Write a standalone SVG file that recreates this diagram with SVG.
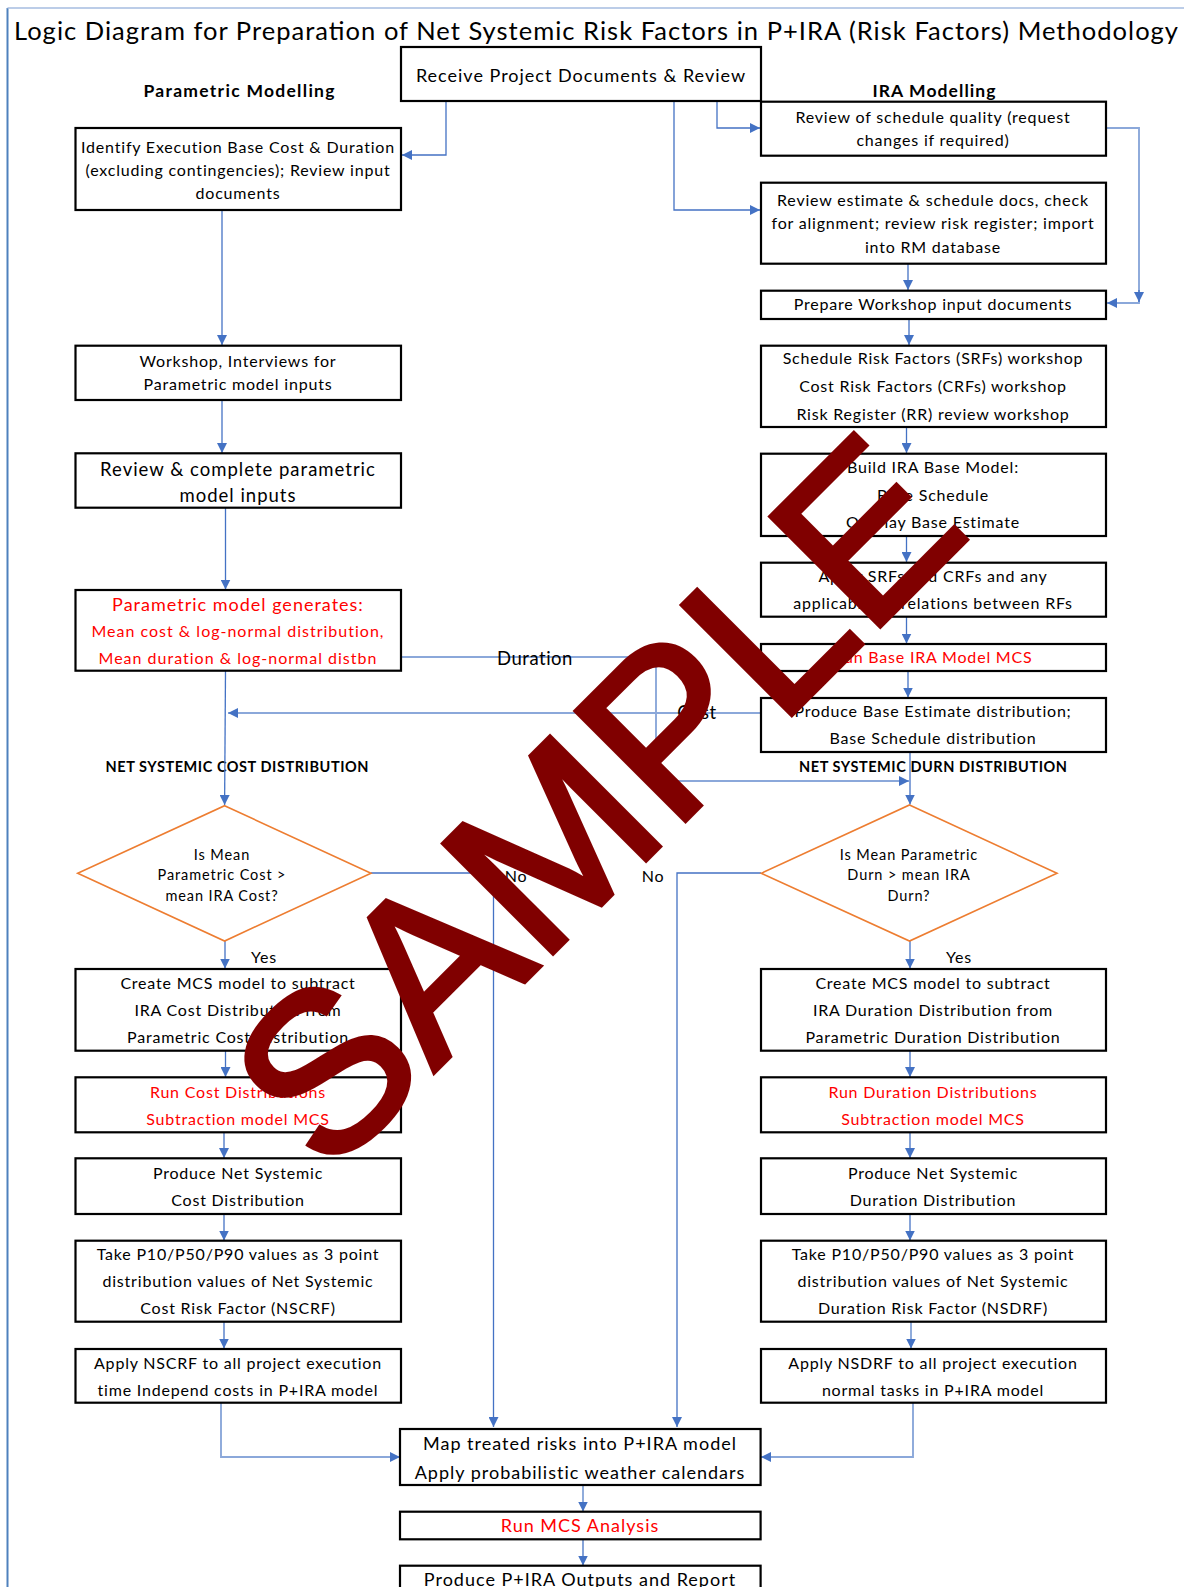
<svg xmlns="http://www.w3.org/2000/svg" width="1184" height="1587" viewBox="0 0 1184 1587">
<style>
text{font-family:Lato,"Liberation Sans",sans-serif;fill:#000}
.bx{fill:#fff;stroke:#000;stroke-width:2.2}
.dm{fill:#fff;stroke:#ED7D31;stroke-width:1.6}
.t{font-size:16px;letter-spacing:.8px;text-anchor:middle}
.big{font-size:18px;letter-spacing:1px}
.big2{font-size:18.5px;letter-spacing:1px}
.mid{font-size:16px;letter-spacing:1px}
.r{fill:#FF0000}
.h{font-weight:bold;text-anchor:middle}
.c{fill:none;stroke:#4472C4;stroke-width:1.3}
.cl{fill:none;stroke:#8BA8DA;stroke-width:1.9}
.lb{font-size:18.5px;letter-spacing:.5px;text-anchor:middle}
.dt{font-size:14.5px;letter-spacing:.9px;text-anchor:middle}
.wm{font-family:"Liberation Sans",Arial,sans-serif;font-size:225px;text-anchor:middle;fill:#800000;stroke:#800000;stroke-width:5;stroke-linejoin:miter}
</style>
<defs>
<marker id="ah" viewBox="0 0 10 10" refX="10" refY="5" markerWidth="10" markerHeight="10" markerUnits="userSpaceOnUse" orient="auto"><path d="M0,0 L10,5 L0,10 z" fill="#4472C4"/></marker>
</defs>
<rect width="1184" height="1587" fill="#fff"/>
<path d="M7.5,1587 V8" stroke="#4F81BD" stroke-width="2" fill="none"/>
<path d="M7.5,8 H1184" stroke="#A6BCE0" stroke-width="1.5" fill="none"/>

<text id="title" x="14" y="39.5" font-size="25.5" textLength="1164" lengthAdjust="spacing">Logic Diagram for Preparation of Net Systemic Risk Factors in P+IRA (Risk Factors) Methodology</text>
<text class="h" x="239" y="97" font-size="17.5" textLength="191">Parametric Modelling</text>
<text class="h" x="934" y="97" font-size="17.5" textLength="123">IRA Modelling</text>
<text class="h" x="237" y="771.5" font-size="14.5" textLength="263">NET SYSTEMIC COST DISTRIBUTION</text>
<text class="h" x="933" y="771.5" font-size="14.5" textLength="268">NET SYSTEMIC DURN DISTRIBUTION</text>

<g id="connectors">
<path class="c" d="M446,101 V155 H402" marker-end="url(#ah)"/>
<path class="c" d="M674,101 V210 H760" marker-end="url(#ah)"/>
<path class="c" d="M717,101 V128 H760" marker-end="url(#ah)"/>
<path class="cl" d="M1106,128 H1139 V303 H1107" marker-end="url(#ah)"/>
<path class="c" d="M1139,290 V302" marker-end="url(#ah)"/>
<path class="c" d="M222,210 V345" marker-end="url(#ah)"/>
<path class="c" d="M222,400 V453" marker-end="url(#ah)"/>
<path class="c" d="M225.5,508 V589.5" marker-end="url(#ah)"/>
<path class="c" d="M908,264 V290" marker-end="url(#ah)"/>
<path class="c" d="M909,319 V345" marker-end="url(#ah)"/>
<path class="c" d="M906.5,427 V453" marker-end="url(#ah)"/>
<path class="c" d="M906.5,536 V562" marker-end="url(#ah)"/>
<path class="c" d="M906.5,617 V643.5" marker-end="url(#ah)"/>
<path class="c" d="M908,671 V697.5" marker-end="url(#ah)"/>
<path class="c" d="M910,752 V804.5" marker-end="url(#ah)"/>
<path class="cl" d="M401,657 H656 V781 H909" marker-end="url(#ah)"/>
<path class="cl" d="M761,713 H228" marker-end="url(#ah)"/>
<path class="c" d="M225.5,671 L224.6,805" marker-end="url(#ah)"/>
<path class="c" d="M225,941 V968.5" marker-end="url(#ah)"/>
<path class="c" d="M910,941 V968.5" marker-end="url(#ah)"/>
<path class="c" d="M225.5,1051 V1077" marker-end="url(#ah)"/>
<path class="c" d="M224,1132 V1158" marker-end="url(#ah)"/>
<path class="c" d="M224,1214 V1240.5" marker-end="url(#ah)"/>
<path class="c" d="M224,1322 V1348.5" marker-end="url(#ah)"/>
<path class="c" d="M910,1051 V1077" marker-end="url(#ah)"/>
<path class="c" d="M910,1132 V1158" marker-end="url(#ah)"/>
<path class="c" d="M910,1214 V1240.5" marker-end="url(#ah)"/>
<path class="cl" d="M911,1322 V1348.5" marker-end="url(#ah)"/>
<path class="c" d="M371,873 H493.5 V1427" marker-end="url(#ah)"/>
<path class="c" d="M761,873 H677 V1427" marker-end="url(#ah)"/>
<path class="cl" d="M221,1403 V1457 H400" marker-end="url(#ah)"/>
<path class="cl" d="M913,1403 V1457 H761" marker-end="url(#ah)"/>
<path class="cl" d="M583,1485 V1511.5" marker-end="url(#ah)"/>
<path class="c" d="M583,1539 V1565.5" marker-end="url(#ah)"/>
<text class="lb" x="535" y="665">Duration</text>
<text class="lb" x="697" y="719">Cost</text>
<text class="t" x="516" y="882">No</text>
<text class="t" x="653" y="882">No</text>
<text class="t" x="264" y="963">Yes</text>
<text class="t" x="959" y="963">Yes</text>
</g>

<g id="n-receive"><rect class="bx" x="401" y="47" width="360" height="54"/><text class="t big" x="581" y="81.5">Receive Project Documents &amp; Review</text></g>

<g id="n-identify"><rect class="bx" x="75.5" y="128" width="325.5" height="82"/>
<text class="t" x="238" y="153">Identify Execution Base Cost &amp; Duration</text>
<text class="t" x="238" y="176">(excluding contingencies); Review input</text>
<text class="t" x="238" y="198.5">documents</text></g>

<g id="n-workshop"><rect class="bx" x="75.5" y="345.7" width="325.5" height="54.3"/>
<text class="t" x="238" y="367">Workshop, Interviews for</text>
<text class="t" x="238" y="389.5">Parametric model inputs</text></g>

<g id="n-reviewcomplete"><rect class="bx" x="75.5" y="453.3" width="325.5" height="54.4"/>
<text class="t big2" x="238" y="475.5">Review &amp; complete parametric</text>
<text class="t big2" x="238" y="502">model inputs</text></g>

<g id="n-paramgen"><rect class="bx" x="75.5" y="590" width="325.5" height="80.7"/>
<text class="t big r" x="238" y="611.3">Parametric model generates:</text>
<text class="t mid r" x="238" y="637">Mean cost &amp; log-normal distribution,</text>
<text class="t mid r" x="238" y="663.6">Mean duration &amp; log-normal distbn</text></g>

<g id="n-schedquality"><rect class="bx" x="761" y="101.7" width="345" height="54"/>
<text class="t" x="933" y="123.3">Review of schedule quality (request</text>
<text class="t" x="933" y="146.3">changes if required)</text></g>

<g id="n-reviewest"><rect class="bx" x="761" y="182.7" width="345" height="81"/>
<text class="t" x="933" y="206">Review estimate &amp; schedule docs, check</text>
<text class="t" x="933" y="229">for alignment; review risk register; import</text>
<text class="t" x="933" y="252.5">into RM database</text></g>

<g id="n-prepare"><rect class="bx" x="761" y="290.7" width="345" height="28.3"/>
<text class="t" x="933" y="310.3">Prepare Workshop input documents</text></g>

<g id="n-workshops"><rect class="bx" x="761" y="345.7" width="345" height="81.3"/>
<text class="t" x="933" y="364.3">Schedule Risk Factors (SRFs) workshop</text>
<text class="t" x="933" y="392.3">Cost Risk Factors (CRFs) workshop</text>
<text class="t" x="933" y="419.8">Risk Register (RR) review workshop</text></g>

<g id="n-build"><rect class="bx" x="761" y="453.7" width="345" height="82.3"/>
<text class="t" x="933" y="473">Build IRA Base Model:</text>
<text class="t" x="933" y="500.5">Base Schedule</text>
<text class="t" x="933" y="527.5">Overlay Base Estimate</text></g>

<g id="n-apply"><rect class="bx" x="761" y="562.7" width="345" height="54"/>
<text class="t" x="933" y="581.5">Apply SRFs and CRFs and any</text>
<text class="t" x="933" y="608.5">applicable correlations between RFs</text></g>

<g id="n-runbase"><rect class="bx" x="761" y="644" width="345" height="27"/>
<text class="t r" x="933" y="663.2">Run Base IRA Model MCS</text></g>

<g id="n-producebase"><rect class="bx" x="761" y="698" width="345" height="54"/>
<text class="t" x="933" y="716.8">Produce Base Estimate distribution;</text>
<text class="t" x="933" y="744.2">Base Schedule distribution</text></g>

<g id="n-dcost"><path class="dm" d="M224.6,805.7 L371,873.3 L224.6,941 L77.7,873.3 Z"/>
<text class="dt" x="222" y="860">Is Mean</text>
<text class="dt" x="222" y="880">Parametric Cost &gt;</text>
<text class="dt" x="222" y="900.5">mean IRA Cost?</text></g>

<g id="n-ddurn"><path class="dm" d="M909.5,805 L1057,873.3 L909.5,941 L761.3,873.3 Z"/>
<text class="dt" x="909" y="860">Is Mean Parametric</text>
<text class="dt" x="909" y="880">Durn &gt; mean IRA</text>
<text class="dt" x="909" y="900.5">Durn?</text></g>

<g id="n-createcost"><rect class="bx" x="75.5" y="969" width="325.5" height="81.7"/>
<text class="t" x="238" y="988.6">Create MCS model to subtract</text>
<text class="t" x="238" y="1016">IRA Cost Distribution from</text>
<text class="t" x="238" y="1043">Parametric Cost Distribution</text></g>

<g id="n-runcost"><rect class="bx" x="75.5" y="1077.3" width="325.5" height="55"/>
<text class="t r" x="238" y="1098">Run Cost Distributions</text>
<text class="t r" x="238" y="1124.6">Subtraction model MCS</text></g>

<g id="n-netcost"><rect class="bx" x="75.5" y="1158.3" width="325.5" height="55.7"/>
<text class="t" x="238" y="1178.6">Produce Net Systemic</text>
<text class="t" x="238" y="1206">Cost Distribution</text></g>

<g id="n-p10cost"><rect class="bx" x="75.5" y="1240.7" width="325.5" height="81"/>
<text class="t" x="238" y="1260">Take P10/P50/P90 values as 3 point</text>
<text class="t" x="238" y="1287">distribution values of Net Systemic</text>
<text class="t" x="238" y="1314.3">Cost Risk Factor (NSCRF)</text></g>

<g id="n-applycost"><rect class="bx" x="75.5" y="1349" width="325.5" height="53.7"/>
<text class="t" x="238" y="1369.3">Apply NSCRF to all project execution</text>
<text class="t" x="238" y="1396">time Independ costs in P+IRA model</text></g>

<g id="n-createdurn"><rect class="bx" x="761" y="969" width="345" height="81.7"/>
<text class="t" x="933" y="988.6">Create MCS model to subtract</text>
<text class="t" x="933" y="1016">IRA Duration Distribution from</text>
<text class="t" x="933" y="1043">Parametric Duration Distribution</text></g>

<g id="n-rundurn"><rect class="bx" x="761" y="1077.3" width="345" height="55"/>
<text class="t r" x="933" y="1098">Run Duration Distributions</text>
<text class="t r" x="933" y="1124.6">Subtraction model MCS</text></g>

<g id="n-netdurn"><rect class="bx" x="761" y="1158.3" width="345" height="55.7"/>
<text class="t" x="933" y="1178.6">Produce Net Systemic</text>
<text class="t" x="933" y="1206">Duration Distribution</text></g>

<g id="n-p10durn"><rect class="bx" x="761" y="1240.7" width="345" height="81"/>
<text class="t" x="933" y="1260">Take P10/P50/P90 values as 3 point</text>
<text class="t" x="933" y="1287">distribution values of Net Systemic</text>
<text class="t" x="933" y="1314.3">Duration Risk Factor (NSDRF)</text></g>

<g id="n-applydurn"><rect class="bx" x="761" y="1349" width="345" height="53.7"/>
<text class="t" x="933" y="1369.3">Apply NSDRF to all project execution</text>
<text class="t" x="933" y="1396">normal tasks in P+IRA model</text></g>

<g id="n-map"><rect class="bx" x="400" y="1429" width="360.6" height="56"/>
<text class="t big" x="580" y="1450">Map treated risks into P+IRA model</text>
<text class="t big" x="580" y="1479">Apply probabilistic weather calendars</text></g>

<g id="n-runmcs"><rect class="bx" x="400" y="1511.7" width="360.6" height="27.6"/>
<text class="t big r" x="580" y="1532">Run MCS Analysis</text></g>

<g id="n-produce"><rect class="bx" x="400" y="1565.7" width="360.6" height="40"/>
<text class="t big" x="580" y="1586">Produce P+IRA Outputs and Report</text></g>

<text id="watermark" class="wm" x="650.6" y="855.6" transform="rotate(-45 650.6 855.6)">SAMPLE</text>
</svg>
